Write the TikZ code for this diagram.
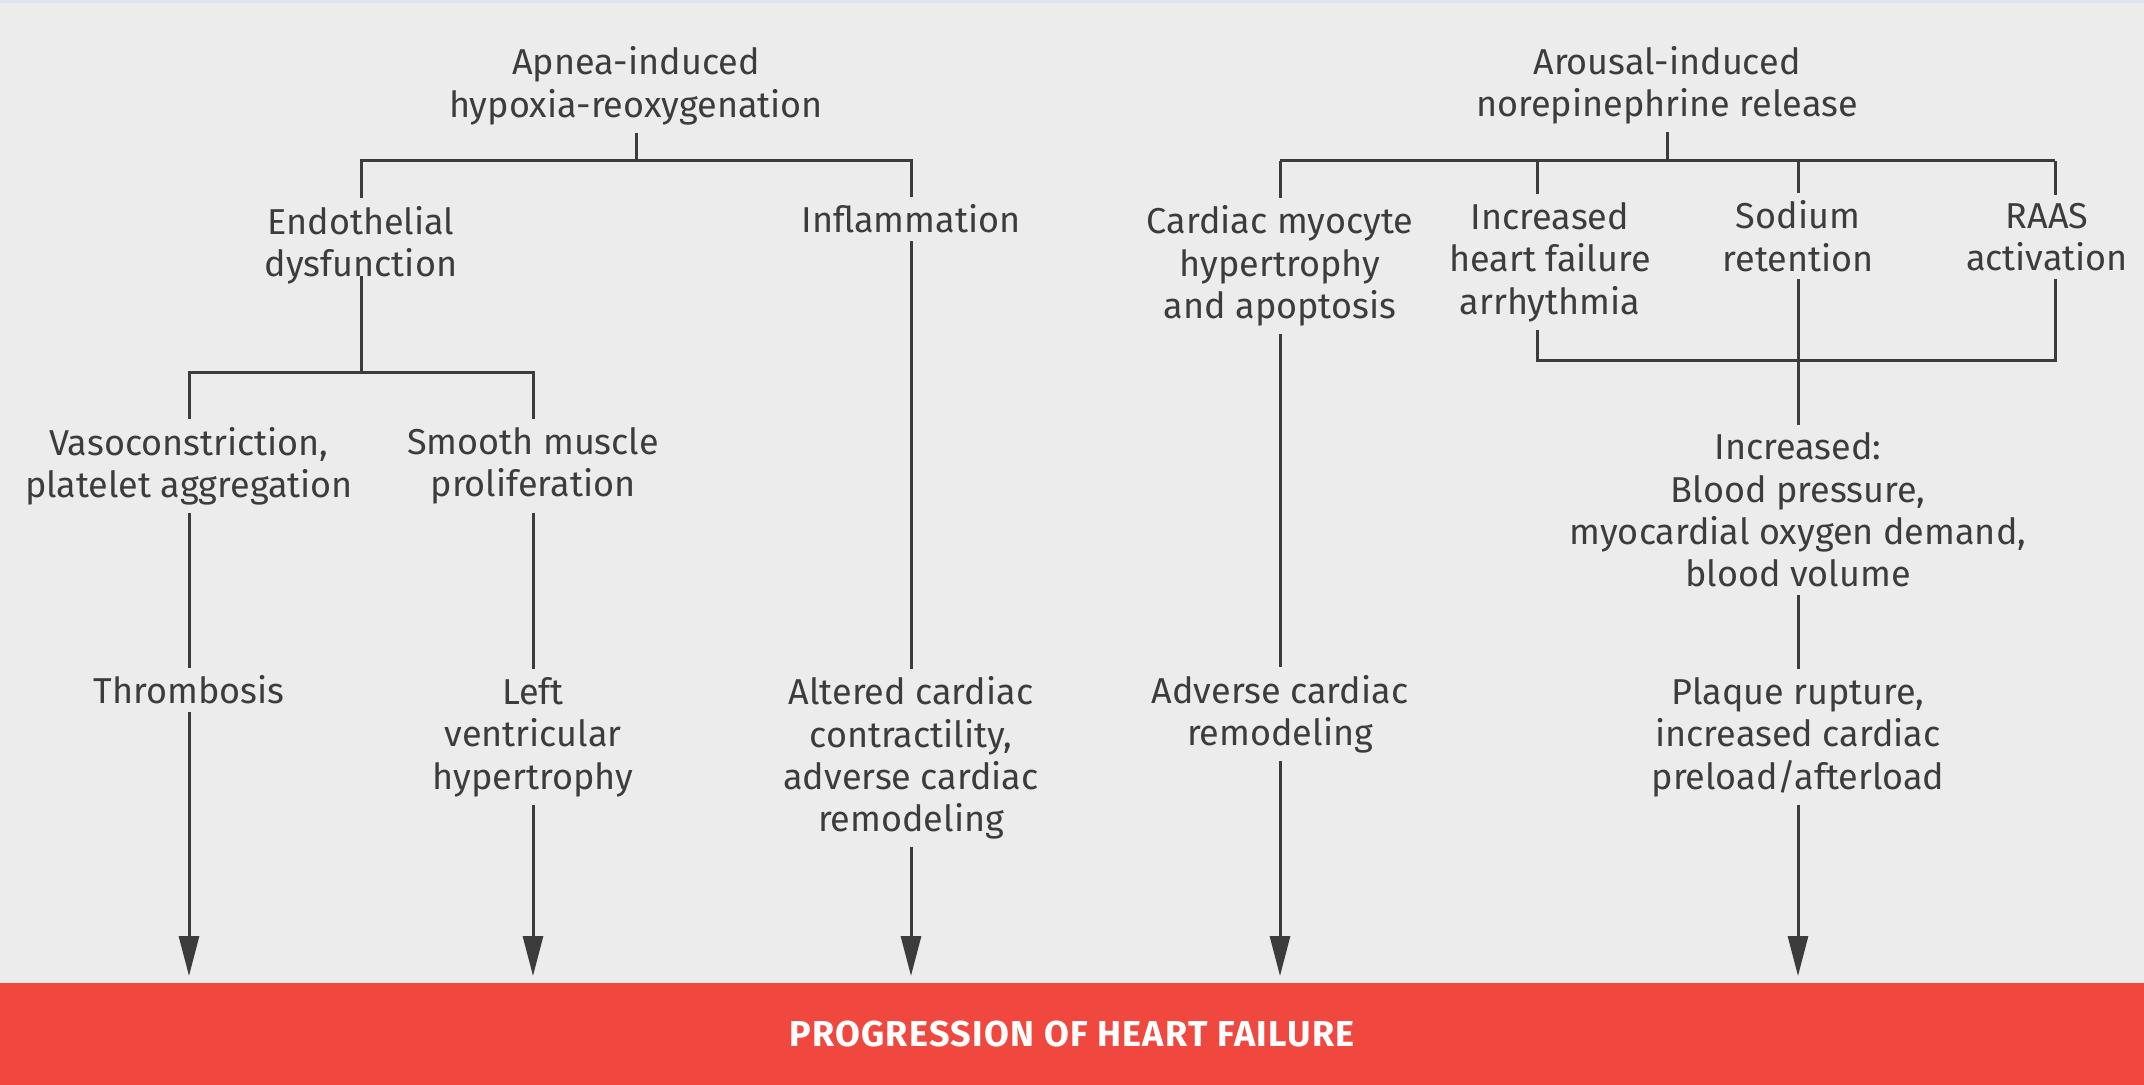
\documentclass[tikz,border=0pt]{standalone}
\usepackage{fontspec}
\setmainfont{Fira Sans}
\usetikzlibrary{arrows.meta}

\definecolor{bg}{HTML}{ECECEC}
\definecolor{ink}{HTML}{3C3C3C}
\definecolor{hfred}{HTML}{F0483E}
\definecolor{topband}{HTML}{DCE4F2}

\tikzset{
  lbl/.style={align=center, font=\fontsize{18}{21.2}\selectfont, text=ink,
              inner xsep=4pt, inner ysep=4pt, outer sep=0pt},
  wire/.style={draw=ink, line width=1.5pt},
  tipline/.style={wire, -{Triangle[width=10pt,length=20pt]}, shorten >=3.5pt},
  banner/.style={fill=hfred, text=white,
                 font=\fontsize{18}{21.2}\selectfont\bfseries\addfontfeatures{LetterSpace=3.5},
                 minimum width=1072pt, minimum height=51pt, inner sep=0pt, outer sep=0pt},
}

\begin{document}
\begin{tikzpicture}[x=0.5pt, y=-0.5pt]
  % canvas
  \fill[bg] (0,0) rectangle (2144,1085);
  \useasboundingbox (0,0) rectangle (2144,1085);
  \fill[topband] (0,0) rectangle (2144,3);

  % outcome banner
  \node[banner] (hfbar) at (1072,1034) {PROGRESSION OF HEART FAILURE};

  % left branch: hypoxia
  \node[lbl] (apnea)  at (636,86)  {Apnea-induced\\hypoxia-reoxygenation};
  \node[lbl] (endo)   at (361,245) {Endothelial\\dysfunction};
  \node[lbl] (infl)   at (911,219) {Inflammation};
  \node[lbl] (vaso)   at (189,466) {Vasoconstriction,\\platelet aggregation};
  \node[lbl] (smooth) at (533,466) {Smooth muscle\\proliferation};
  \node[lbl] (thromb) at (189,690) {Thrombosis};
  \node[lbl] (lvh)    at (533,737) {Left\\ventricular\\hypertrophy};
  \node[lbl] (alt)    at (911,758) {Altered cardiac\\contractility,\\adverse cardiac\\remodeling};

  % right branch: norepinephrine
  \node[lbl] (arousal) at (1667,85)  {Arousal-induced\\norepinephrine release};
  \node[lbl] (myo)     at (1280,266) {Cardiac myocyte\\hypertrophy\\and apoptosis};
  \node[lbl] (hf)      at (1550,262) {Increased\\heart failure\\arrhythmia};
  \node[lbl] (sod)     at (1798,236) {Sodium\\retention};
  \node[lbl] (raas)    at (2047,237) {RAAS\\activation};
  \node[lbl] (incr)    at (1798,510) {Increased:\\Blood pressure,\\myocardial oxygen demand,\\blood volume};
  \node[lbl] (adv)     at (1280,714) {Adverse cardiac\\remodeling};
  \node[lbl] (plaque)  at (1798,737) {Plaque rupture,\\increased cardiac\\preload/afterload};

  % bus levels and column positions
  \coordinate (busA) at (636,161);
  \coordinate (busB) at (361,373);
  \coordinate (busC) at (1669,161);
  \coordinate (busD) at (1537,361);
  \coordinate (colHF) at (1537,0);
  \coordinate (colR)  at (2055,0);

  % hypoxia tree
  \draw[wire] (apnea.south) -- (apnea.south |- busA);
  \draw[wire] (endo.north) -- (endo.north |- busA) -- (infl.north |- busA) -- (infl.north);
  \draw[wire] ([yshift=8pt]endo.south) -- (endo.south |- busB);
  \draw[wire] (vaso.north) -- (vaso.north |- busB) -- (smooth.north |- busB) -- (smooth.north);
  \draw[wire] (vaso.south) -- (thromb.north);
  \draw[wire] (smooth.south) -- (lvh.north);
  \draw[wire] (infl.south) -- (alt.north);

  % norepinephrine tree
  \draw[wire] (arousal.south) -- (arousal.south |- busC);
  \draw[wire] (myo.north |- busC) -- (colR |- busC);
  \draw[wire] (myo.north |- busC) -- (myo.north);
  \draw[wire] (colHF |- busC) -- (colHF |- hf.north);
  \draw[wire] (sod.north |- busC) -- (sod.north);
  \draw[wire] (colR |- busC) -- (colR |- raas.north);
  \draw[wire] (colHF |- hf.south) -- (colHF |- busD) -- (colR |- busD) -- (colR |- raas.south);
  \draw[wire] (sod.south) -- (incr.north);
  \draw[wire] (incr.south) -- (plaque.north);
  \draw[wire] (myo.south) -- (adv.north);

  % arrows into the banner
  \draw[tipline] (thromb.south) -- (thromb.south |- hfbar.north);
  \draw[tipline] (lvh.south)    -- (lvh.south |- hfbar.north);
  \draw[tipline] (alt.south)    -- (alt.south |- hfbar.north);
  \draw[tipline] (adv.south)    -- (adv.south |- hfbar.north);
  \draw[tipline] (plaque.south) -- (plaque.south |- hfbar.north);
\end{tikzpicture}
\end{document}
